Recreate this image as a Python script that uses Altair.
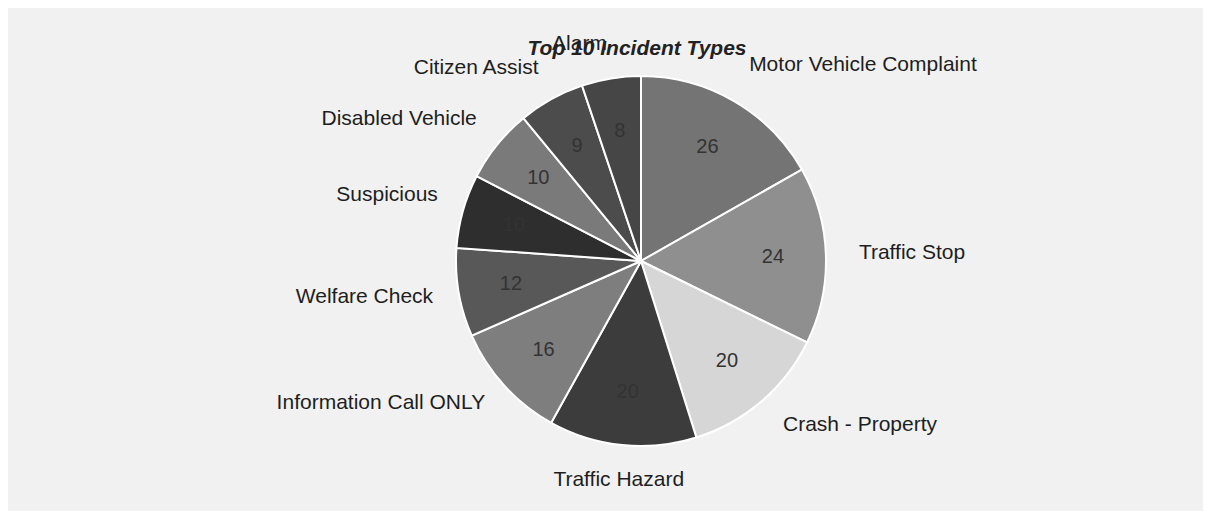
import math
import altair as alt
import pandas as pd

categories = ["Motor Vehicle Complaint", "Traffic Stop", "Crash - Property", "Traffic Hazard",
              "Information Call ONLY", "Welfare Check", "Suspicious", "Disabled Vehicle",
              "Citizen Assist", "Alarm"]
counts = [26, 24, 20, 20, 16, 12, 10, 10, 9, 8]
shades = ["#747474", "#8f8f8f", "#d6d6d6", "#3c3c3c", "#7e7e7e",
          "#585858", "#2e2e2e", "#7a7a7a", "#4c4c4c", "#464646"]
chart_title = "Top 10 Incident Types"

df = pd.DataFrame({
    "category": categories,
    "count": counts,
    "order": list(range(len(categories))),
})
total = sum(counts)
FONT = "Liberation Sans"

base = alt.Chart(df).transform_window(
    cum="sum(count)", sort=[alt.SortField("order")], frame=[None, 0]
).transform_calculate(
    start="datum.cum - datum.count",
    mid="datum.cum - datum.count / 2",
).transform_calculate(
    frac=f"datum.mid / {total}",
).transform_calculate(
    side="datum.frac > 0.47 && datum.frac < 0.53 ? 'center' : (datum.frac < 0.5 ? 'left' : 'right')",
    up="cos(2 * PI * datum.frac) > 0.25",
)
theta_scale = alt.Scale(domain=[0, total], range=[0, 2 * math.pi])

arcs = base.mark_arc(outerRadius=185, stroke="white", strokeWidth=2).encode(
    theta=alt.Theta("start:Q", stack=False, scale=theta_scale),
    theta2="cum:Q",
    color=alt.Color("category:N", scale=alt.Scale(domain=categories, range=shades), legend=None),
)

numbers = base.mark_text(radius=132, fontSize=20, font=FONT, color="#333333",
                         baseline="middle").encode(
    theta=alt.Theta("mid:Q", stack=False, scale=theta_scale),
    text="count:Q",
)

# (side, upper half?, radius, vertical nudge)
label_groups = [
    ("left", True, 215, -10),
    ("left", False, 218, -1),
    ("center", False, 220, 0),
    ("right", False, 211, 0),
    ("right", True, 211, -9),
]
label_layers = []
for side, up, r, dy in label_groups:
    cond = f"datum.side == '{side}' && datum.up == {'true' if up else 'false'}"
    label_layers.append(
        base.transform_filter(cond).mark_text(
            radius=r, dy=dy, align=side, baseline="middle", fontSize=21, font=FONT,
            color="#1e1e1e"
        ).encode(
            theta=alt.Theta("mid:Q", stack=False, scale=theta_scale),
            text="category:N",
        )
    )

chart = alt.layer(arcs, numbers, *label_layers).properties(
    width=1080,
    height=470,
    autosize="none",
    padding={"left": 93, "top": 18, "right": 22, "bottom": 15},
    background="#f1f1f1",
    title=alt.TitleParams(
        chart_title, fontSize=21, font=FONT, fontStyle="italic", fontWeight="bold",
        color="#222222", anchor="middle", dy=37, dx=-4,
    ),
).configure_view(stroke=None)

chart.save("out.html", embed_options={"renderer": "svg", "actions": False})
